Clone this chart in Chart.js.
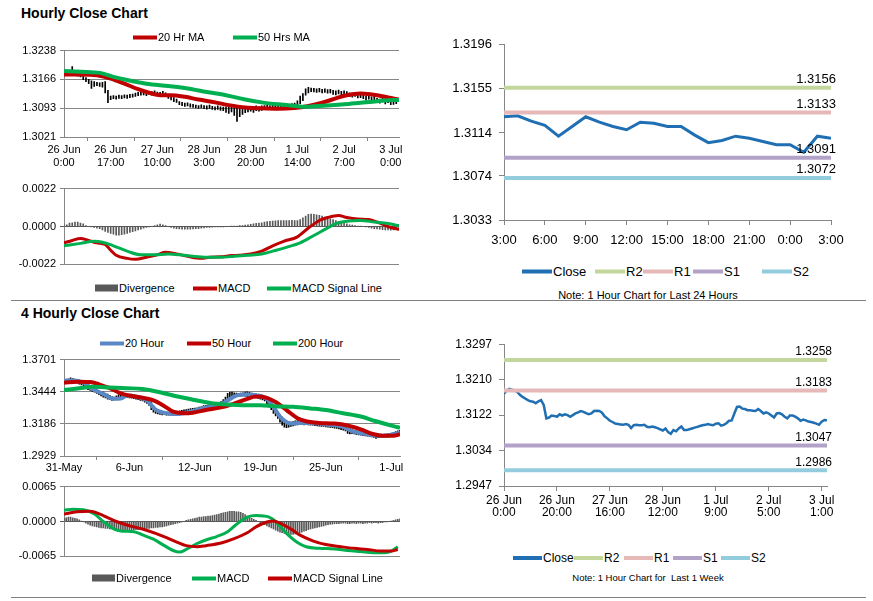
<!DOCTYPE html>
<html>
<head>
<meta charset="utf-8">
<script src="https://cdn.jsdelivr.net/npm/chart.js@4.4.0/dist/chart.umd.min.js"></script>
<style>
  body { margin: 0; background: #fff; width: 873px; height: 601px; position: relative; overflow: hidden;
         font-family: 'Liberation Sans', Arial, sans-serif; color: #000; }
  canvas { position: absolute; }
  .title { position: absolute; left: 21px; font-weight: bold; font-size: 14px; line-height: 1; }
  .rule { position: absolute; left: 11px; width: 855px; height: 1px; background: #808080; }
  .lg { position: absolute; display: flex; align-items: center; transform: translateY(-50%);
        font-size: 11px; line-height: 1; white-space: nowrap; }
  .lg i { display: inline-block; height: 4px; width: 24px; margin-right: 1px; }
  .lg i.box { height: 7px; width: 23px; background: #595959; }
  .lg.nr { font-size: 13px; }
  .lg.nr i { width: 30px; }
  .note { position: absolute; transform: translate(-50%, -50%); white-space: nowrap; line-height: 1; }
</style>
</head>
<body>
<div class="title" style="top:6px">Hourly Close Chart</div>
<div class="title" style="top:306px">4 Hourly Close Chart</div>
<div class="rule" style="top:300px"></div>
<div class="rule" style="top:597px"></div>

<canvas id="hrPrice" width="410" height="132" style="left:0;top:40px"></canvas>
<canvas id="hrMacd" width="410" height="97" style="left:0;top:178px"></canvas>
<canvas id="h4Price" width="410" height="128" style="left:0;top:349px"></canvas>
<canvas id="h4Macd" width="410" height="91" style="left:0;top:476px"></canvas>
<canvas id="dayChart" width="430" height="225" style="left:430px;top:30px"></canvas>
<canvas id="weekChart" width="430" height="200" style="left:430px;top:330px"></canvas>

<div class="lg" style="top:37px;left:133px"><i style="background:#c00000"></i>20 Hr MA</div>
<div class="lg" style="top:37px;left:233px"><i style="background:#00b050"></i>50 Hrs MA</div>

<div class="lg" style="top:288px;left:95px"><i class="box"></i>Divergence</div>
<div class="lg" style="top:288px;left:193px"><i style="background:#c00000"></i>MACD</div>
<div class="lg" style="top:288px;left:267px"><i style="background:#00b050"></i>MACD Signal Line</div>

<div class="lg" style="top:343px;left:100px"><i style="background:#5b87c5"></i>20 Hour</div>
<div class="lg" style="top:343px;left:187px"><i style="background:#c00000"></i>50 Hour</div>
<div class="lg" style="top:343px;left:273px"><i style="background:#00b050"></i>200 Hour</div>

<div class="lg" style="top:578px;left:92px"><i class="box"></i>Divergence</div>
<div class="lg" style="top:578px;left:192px"><i style="background:#00b050"></i>MACD</div>
<div class="lg" style="top:578px;left:268px"><i style="background:#c00000"></i>MACD Signal Line</div>

<div class="lg nr" style="top:271px;left:522px"><i style="background:#1f6fb2"></i>Close</div>
<div class="lg nr" style="top:271px;left:595px"><i style="background:#c3d69b"></i>R2</div>
<div class="lg nr" style="top:271px;left:643px"><i style="background:#e6b9b8"></i>R1</div>
<div class="lg nr" style="top:271px;left:693px"><i style="background:#b3a2c7"></i>S1</div>
<div class="lg nr" style="top:271px;left:762px"><i style="background:#93cddd"></i>S2</div>
<div class="note" style="left:648px;top:295px;font-size:11px">Note: 1 Hour Chart for Last 24 Hours</div>

<div class="lg nr" style="top:558px;left:513px;font-size:12px"><i style="background:#1f6fb2;width:29px"></i>Close</div>
<div class="lg nr" style="top:558px;left:574px;font-size:12px"><i style="background:#c3d69b;width:29px"></i>R2</div>
<div class="lg nr" style="top:558px;left:624px;font-size:12px"><i style="background:#e6b9b8;width:29px"></i>R1</div>
<div class="lg nr" style="top:558px;left:673px;font-size:12px"><i style="background:#b3a2c7;width:29px"></i>S1</div>
<div class="lg nr" style="top:558px;left:721px;font-size:12px"><i style="background:#93cddd;width:29px"></i>S2</div>
<div class="note" style="left:648px;top:578px;font-size:9.5px">Note: 1 Hour Chart for&nbsp; Last 1 Week</div>

<script>
// ---------- Hourly close chart (top left) ----------
const hrTickLabels = [['26 Jun', '0:00'], ['26 Jun', '17:00'], ['27 Jun', '10:00'], ['28 Jun', '3:00'],
  ['28 Jun', '20:00'], ['1 Jul', '14:00'], ['2 Jul', '7:00'], ['3 Jul', '0:00']]
const hrPriceTicks = [1.3021, 1.3093, 1.3166, 1.3238]
const hrLow = [
  1.3176, 1.3177, 1.3176, 1.3176, 1.3175, 1.3174, 1.3172, 1.3165, 1.3160, 1.3155,
  1.3143, 1.3148, 1.3150, 1.3148, 1.3146, 1.3132, 1.3107, 1.3115, 1.3117, 1.3116,
  1.3118, 1.3117, 1.3119, 1.3118, 1.3120, 1.3121, 1.3123, 1.3125, 1.3126, 1.3127,
  1.3125, 1.3128, 1.3126, 1.3127, 1.3126, 1.3125, 1.3127, 1.3124, 1.3118, 1.3114,
  1.3110, 1.3108, 1.3102, 1.3100, 1.3098, 1.3099, 1.3096, 1.3095, 1.3094, 1.3093,
  1.3094, 1.3092, 1.3091, 1.3093, 1.3090, 1.3089, 1.3090, 1.3088, 1.3087, 1.3083,
  1.3080, 1.3084, 1.3075, 1.3060, 1.3072, 1.3078, 1.3082, 1.3084, 1.3086, 1.3083,
  1.3087, 1.3086, 1.3088, 1.3090, 1.3091, 1.3090, 1.3092, 1.3093, 1.3091, 1.3094,
  1.3093, 1.3095, 1.3094, 1.3096, 1.3097, 1.3098, 1.3105, 1.3112, 1.3126, 1.3132,
  1.3135, 1.3134, 1.3133, 1.3134, 1.3132, 1.3133, 1.3131, 1.3132, 1.3128, 1.3127,
  1.3129, 1.3126, 1.3127, 1.3125, 1.3122, 1.3121, 1.3123, 1.3119, 1.3120, 1.3117,
  1.3113, 1.3116, 1.3111, 1.3114, 1.3108, 1.3106, 1.3110, 1.3104, 1.3107, 1.3102,
  1.3103, 1.3105, 1.3110]
const hrHigh = [
  1.3183, 1.3184, 1.3182, 1.3198, 1.3184, 1.3182, 1.3180, 1.3177, 1.3170, 1.3166,
  1.3162, 1.3160, 1.3158, 1.3157, 1.3158, 1.3160, 1.3138, 1.3124, 1.3125, 1.3124,
  1.3126, 1.3125, 1.3127, 1.3126, 1.3128, 1.3129, 1.3131, 1.3133, 1.3134, 1.3136,
  1.3133, 1.3136, 1.3135, 1.3137, 1.3134, 1.3133, 1.3136, 1.3132, 1.3128, 1.3124,
  1.3120, 1.3116, 1.3110, 1.3108, 1.3106, 1.3107, 1.3104, 1.3103, 1.3101, 1.3100,
  1.3102, 1.3100, 1.3099, 1.3101, 1.3098, 1.3097, 1.3099, 1.3097, 1.3096, 1.3097,
  1.3096, 1.3097, 1.3095, 1.3097, 1.3096, 1.3097, 1.3098, 1.3097, 1.3098, 1.3097,
  1.3099, 1.3097, 1.3099, 1.3100, 1.3101, 1.3100, 1.3102, 1.3103, 1.3101, 1.3103,
  1.3102, 1.3104, 1.3103, 1.3105, 1.3106, 1.3112, 1.3124, 1.3130, 1.3142, 1.3146,
  1.3144, 1.3143, 1.3142, 1.3143, 1.3141, 1.3142, 1.3140, 1.3141, 1.3138, 1.3137,
  1.3139, 1.3136, 1.3137, 1.3135, 1.3132, 1.3131, 1.3133, 1.3129, 1.3130, 1.3127,
  1.3124, 1.3126, 1.3122, 1.3124, 1.3118, 1.3116, 1.3120, 1.3114, 1.3117, 1.3112,
  1.3113, 1.3114, 1.3118]
// [bar index, value]
const hrMa20 = [[0, 1.3178], [6, 1.3178], [12, 1.3176], [17, 1.3168], [22, 1.3155], [27, 1.3141], [31, 1.3132],
  [35, 1.3126], [39, 1.3126], [44, 1.3122], [49, 1.3115], [55, 1.3108], [60, 1.3101], [66, 1.3095], [72, 1.3093],
  [78, 1.3092], [84, 1.3094], [89, 1.3099], [94, 1.3107], [99, 1.3118], [103, 1.3126], [108, 1.3130],
  [114, 1.3126], [118, 1.3120], [122, 1.3115]]
const hrMa50 = [[0, 1.3187], [6, 1.3185], [13, 1.3182], [18, 1.3172], [23, 1.3164], [30, 1.3155], [38, 1.3149],
  [45, 1.3143], [52, 1.3134], [59, 1.3126], [66, 1.3115], [72, 1.3108], [78, 1.3103], [84, 1.3099], [88, 1.3097],
  [91, 1.3098], [102, 1.3103], [108, 1.3107], [114, 1.3111], [120, 1.3114], [122, 1.3114]]
const hrMacdTicks = [-0.0022, 0, 0.0022]
const hrMacd = [[0, -0.00095], [3, -0.00081], [6, -0.00069], [9, -0.00081], [12, -0.00095], [15, -0.00104],
  [17, -0.00138], [19, -0.00167], [23, -0.00185], [26, -0.0019], [30, -0.00178], [34, -0.00164], [37, -0.0015],
  [41, -0.00159], [45, -0.00173], [50, -0.00185], [53, -0.00178], [57, -0.00176], [61, -0.00169], [64, -0.00167],
  [68, -0.0016], [72, -0.00143], [76, -0.00112], [80, -0.00086], [85, -0.0006], [89, -0.00009], [93, 0.00035],
  [96, 0.00052], [100, 0.00064], [103, 0.00052], [107, 0.00043], [111, 0.0004], [114, 0.00026], [118, 0],
  [122, -0.00017]]
const hrSignal = [[0, -0.00112], [6, -0.00098], [11, -0.00086], [14, -0.00091], [18, -0.00112], [23, -0.00143],
  [28, -0.00164], [33, -0.00164], [38, -0.0016], [42, -0.00164], [47, -0.00173], [52, -0.00178], [57, -0.00178],
  [62, -0.00173], [67, -0.00167], [72, -0.0016], [76, -0.00143], [81, -0.00121], [86, -0.00095], [91, -0.00052],
  [95, -0.00017], [99, 0.00017], [103, 0.00031], [108, 0.00035], [113, 0.00026], [118, 0.00017], [122, 0.00005]]
const hrDiv = [
  0.0001, 0.0001, 0.0002, 0.00022, 0.00025, 0.00026, 0.0002, 0.00015, 0.00005, 0,
  -0.00003, -0.00005, -0.0001, -0.00012, -0.0002, -0.00028, -0.00035, -0.0004, -0.00045, -0.0005,
  -0.0005, -0.00048, -0.00045, -0.0004, -0.00035, -0.0003, -0.00025, -0.0002, -0.00015, -0.0001,
  -0.00005, -0.00002, 0, 0.00005, 0.0001, 0.00014, 0.0001, 0.00005, 0, -0.00005,
  -0.0001, -0.00012, -0.00014, -0.00015, -0.00015, -0.00016, -0.00015, -0.00014, -0.00013, -0.00012,
  -0.0001, -0.00008, -0.00006, -0.00005, -0.00004, -0.00003, -0.00002, -0.00002, -0.00001, 0,
  0, 0.00001, 0.00002, 0.00003, 0.00005, 0.00006, 0.00008, 0.0001, 0.00012, 0.00015,
  0.00018, 0.0002, 0.00022, 0.00025, 0.00028, 0.0003, 0.00032, 0.00033, 0.00034, 0.00035,
  0.00035, 0.00034, 0.00035, 0.00036, 0.00035, 0.00034, 0.0004, 0.0005, 0.0006, 0.0007,
  0.00072, 0.0007, 0.00068, 0.00065, 0.0006, 0.00055, 0.0005, 0.00045, 0.0004, 0.00035,
  0.0003, 0.00025, 0.0002, 0.00015, 0.0001, 0.00008, 0.00005, 0.00003, 0.00001, 0,
  -0.00003, -0.00006, -0.0001, -0.00012, -0.00014, -0.00016, -0.00018, -0.0002, -0.0002, -0.00022,
  -0.0002, -0.00018, -0.00015]

// ---------- 4 hourly close chart (bottom left) ----------
const h4TickLabels = ['31-May', '6-Jun', '12-Jun', '19-Jun', '25-Jun', '1-Jul']
const h4PriceTicks = [1.2929, 1.3186, 1.3444, 1.3701]
const h4Low = [
  1.3515, 1.3520, 1.3522, 1.3525, 1.3520, 1.3518, 1.3512, 1.3505, 1.3498, 1.3490,
  1.3470, 1.3460, 1.3455, 1.3445, 1.3440, 1.3430, 1.3420, 1.3410, 1.3400, 1.3395,
  1.3385, 1.3380, 1.3375, 1.3378, 1.3385, 1.3392, 1.3398, 1.3400, 1.3402, 1.3398,
  1.3395, 1.3392, 1.3388, 1.3385, 1.3380, 1.3375, 1.3370, 1.3360, 1.3350, 1.3335,
  1.3300, 1.3280, 1.3270, 1.3265, 1.3262, 1.3258, 1.3260, 1.3255, 1.3256, 1.3255,
  1.3254, 1.3256, 1.3255, 1.3258, 1.3262, 1.3265, 1.3268, 1.3270, 1.3275, 1.3278,
  1.3282, 1.3285, 1.3290, 1.3295, 1.3300, 1.3305, 1.3308, 1.3310, 1.3312, 1.3315,
  1.3318, 1.3322, 1.3330, 1.3340, 1.3355, 1.3370, 1.3385, 1.3395, 1.3400, 1.3405,
  1.3405, 1.3408, 1.3410, 1.3408, 1.3405, 1.3402, 1.3400, 1.3398, 1.3395, 1.3390,
  1.3385, 1.3378, 1.3370, 1.3340, 1.3320, 1.3300, 1.3270, 1.3250, 1.3230, 1.3200,
  1.3175, 1.3160, 1.3155, 1.3160, 1.3165, 1.3170, 1.3175, 1.3178, 1.3180, 1.3180,
  1.3178, 1.3180, 1.3178, 1.3176, 1.3175, 1.3172, 1.3170, 1.3168, 1.3166, 1.3165,
  1.3162, 1.3160, 1.3158, 1.3155, 1.3152, 1.3150, 1.3145, 1.3140, 1.3135, 1.3130,
  1.3110, 1.3105, 1.3108, 1.3105, 1.3100, 1.3098, 1.3095, 1.3092, 1.3090, 1.3088,
  1.3085, 1.3082, 1.3078, 1.3070, 1.3075, 1.3078, 1.3080, 1.3082, 1.3084, 1.3085,
  1.3088, 1.3090, 1.3095, 1.3100, 1.3105]
const h4High = [
  1.3540, 1.3545, 1.3548, 1.3555, 1.3550, 1.3545, 1.3540, 1.3535, 1.3528, 1.3520,
  1.3505, 1.3495, 1.3485, 1.3480, 1.3470, 1.3465, 1.3455, 1.3445, 1.3440, 1.3430,
  1.3425, 1.3415, 1.3405, 1.3400, 1.3410, 1.3420, 1.3428, 1.3432, 1.3430, 1.3425,
  1.3420, 1.3418, 1.3415, 1.3412, 1.3408, 1.3402, 1.3398, 1.3392, 1.3385, 1.3375,
  1.3360, 1.3330, 1.3310, 1.3300, 1.3290, 1.3285, 1.3282, 1.3280, 1.3278, 1.3276,
  1.3275, 1.3278, 1.3280, 1.3290, 1.3295, 1.3298, 1.3300, 1.3305, 1.3308, 1.3310,
  1.3312, 1.3315, 1.3320, 1.3325, 1.3332, 1.3335, 1.3338, 1.3340, 1.3342, 1.3345,
  1.3348, 1.3355, 1.3365, 1.3380, 1.3400, 1.3430, 1.3438, 1.3440, 1.3435, 1.3432,
  1.3430, 1.3432, 1.3435, 1.3440, 1.3442, 1.3438, 1.3432, 1.3428, 1.3425, 1.3420,
  1.3415, 1.3410, 1.3405, 1.3395, 1.3370, 1.3350, 1.3330, 1.3300, 1.3280, 1.3260,
  1.3240, 1.3220, 1.3210, 1.3205, 1.3200, 1.3205, 1.3210, 1.3212, 1.3212, 1.3210,
  1.3208, 1.3210, 1.3205, 1.3206, 1.3204, 1.3202, 1.3200, 1.3198, 1.3196, 1.3195,
  1.3195, 1.3192, 1.3190, 1.3188, 1.3185, 1.3182, 1.3178, 1.3175, 1.3170, 1.3165,
  1.3160, 1.3150, 1.3140, 1.3135, 1.3130, 1.3128, 1.3125, 1.3120, 1.3118, 1.3115,
  1.3112, 1.3110, 1.3108, 1.3105, 1.3102, 1.3100, 1.3102, 1.3104, 1.3106, 1.3108,
  1.3112, 1.3118, 1.3125, 1.3130, 1.3135]
const h4Ma20 = [[0, 1.3529], [4, 1.3534], [9, 1.3516], [13, 1.3465], [18, 1.3426], [23, 1.3387], [26, 1.3390],
  [29, 1.3413], [33, 1.3405], [38, 1.3374], [42, 1.3300], [47, 1.3271], [52, 1.3266], [56, 1.3276], [61, 1.3297],
  [65, 1.3318], [70, 1.3328], [75, 1.3374], [79, 1.3413], [84, 1.3421], [88, 1.3416], [93, 1.3387], [96, 1.3323],
  [99, 1.3245], [104, 1.3189], [108, 1.3194], [114, 1.3194], [120, 1.3181], [127, 1.3168], [132, 1.3129],
  [139, 1.3103], [144, 1.3091], [148, 1.3091], [151, 1.3103], [154, 1.3116]]
const h4Ma50 = [[0, 1.3516], [6, 1.3524], [12, 1.3521], [16, 1.3503], [21, 1.3472], [26, 1.3431], [30, 1.3413],
  [36, 1.3395], [41, 1.3374], [46, 1.3328], [50, 1.3284], [55, 1.3271], [59, 1.3276], [65, 1.3297], [72, 1.3318],
  [78, 1.3349], [84, 1.3387], [88, 1.3405], [93, 1.3395], [97, 1.3361], [102, 1.3297], [107, 1.3232],
  [111, 1.3207], [117, 1.3194], [124, 1.3189], [130, 1.3173], [136, 1.3142], [142, 1.3103], [146, 1.3091],
  [151, 1.3091], [154, 1.3103]]
const h4Ma200 = [[0, 1.3457], [7, 1.3472], [13, 1.3483], [21, 1.3478], [29, 1.3472], [36, 1.3465], [44, 1.3439],
  [52, 1.3405], [59, 1.3380], [67, 1.3354], [75, 1.3341], [82, 1.3336], [90, 1.3336], [97, 1.3328], [105, 1.3323],
  [113, 1.3310], [120, 1.3297], [128, 1.3271], [136, 1.3245], [143, 1.3207], [151, 1.3168], [154, 1.3155]]
const h4MacdTicks = [-0.0065, 0, 0.0065]
const h4Macd = [[0, 0.0021], [4, 0.0023], [9, 0.0022], [14, 0.0014], [18, 0], [23, -0.0014], [27, -0.0018],
  [32, -0.0019], [36, -0.0025], [41, -0.0033], [46, -0.0045], [50, -0.0054], [53, -0.0057], [56, -0.0052],
  [61, -0.0041], [66, -0.0033], [70, -0.0028], [75, -0.0019], [79, -0.00055], [84, 0.0008], [88, 0.0011],
  [94, 0.0008], [97, 0], [102, -0.0022], [107, -0.0039], [111, -0.0047], [117, -0.005], [124, -0.0051],
  [130, -0.0054], [136, -0.0056], [142, -0.0058], [147, -0.0058], [150, -0.0055], [153, -0.0047]]
const h4Signal = [[0, 0.0014], [6, 0.0018], [12, 0.0019], [18, 0.0011], [24, 0], [30, -0.0008], [36, -0.0014],
  [42, -0.0022], [47, -0.003], [52, -0.0039], [56, -0.0045], [61, -0.0047], [65, -0.0045], [72, -0.004],
  [78, -0.0032], [84, -0.0021], [88, -0.001], [93, -0.0001], [96, 0.0001], [99, -0.0003], [104, -0.0014],
  [108, -0.0025], [114, -0.0036], [120, -0.0043], [127, -0.0047], [133, -0.005], [139, -0.0052], [145, -0.0055],
  [150, -0.0055], [153, -0.0052]]
const h4Div = [
  0.0006, 0.0007, 0.0008, 0.0008, 0.0007, 0.0006, 0.0005, 0.0003, 0.0001, -0.0001,
  -0.0003, -0.0005, -0.0007, -0.0008, -0.0009, -0.001, -0.0011, -0.0012, -0.0012, -0.0013,
  -0.0013, -0.0014, -0.0014, -0.0015, -0.0015, -0.0016, -0.0016, -0.0016, -0.0017, -0.0017,
  -0.0016, -0.0016, -0.0016, -0.0015, -0.0015, -0.0015, -0.0014, -0.0014, -0.0013, -0.0013,
  -0.0012, -0.0012, -0.0011, -0.0011, -0.001, -0.001, -0.0009, -0.0008, -0.0007, -0.0006,
  -0.0005, -0.0004, -0.0003, -0.0002, -0.0001, 0, 0.0002, 0.0003, 0.0004, 0.0005,
  0.0006, 0.0007, 0.0008, 0.0008, 0.0009, 0.0009, 0.001, 0.001, 0.0011, 0.0012,
  0.0013, 0.0014, 0.0015, 0.0016, 0.0017, 0.0018, 0.0019, 0.0019, 0.0019, 0.0018,
  0.0018, 0.0017, 0.0015, 0.0013, 0.001, 0.0008, 0.0006, 0.0004, 0.0002, 0,
  -0.0002, -0.0004, -0.0006, -0.0008, -0.001, -0.0012, -0.0014, -0.0016, -0.0018, -0.002,
  -0.0021, -0.0022, -0.0023, -0.0024, -0.0024, -0.0024, -0.0023, -0.0022, -0.0021, -0.002,
  -0.0018, -0.0017, -0.0015, -0.0014, -0.0013, -0.0012, -0.0011, -0.001, -0.0009, -0.0008,
  -0.0007, -0.0006, -0.0005, -0.0005, -0.0004, -0.0004, -0.0004, -0.0003, -0.0003, -0.0003,
  -0.0004, -0.0004, -0.0003, -0.0003, -0.0004, -0.0003, -0.0003, -0.0004, -0.0003, -0.0003,
  -0.0002, -0.0003, -0.0002, -0.0002, -0.0003, -0.0002, -0.0002, -0.0001, -0.0001, 0,
  0.0001, 0.0002, 0.0003, 0.0004, 0.0005]

// ---------- last 24 hours (top right) ----------
const dayTickLabels = ['3:00', '6:00', '9:00', '12:00', '15:00', '18:00', '21:00', '0:00', '3:00']
const dayYTicks = [1.3033, 1.3074, 1.3114, 1.3155, 1.3196]
const dayClose = [1.3129, 1.3130, 1.3125, 1.3121, 1.3111, 1.3120, 1.3129, 1.3124, 1.3120, 1.3117,
  1.3124, 1.3123, 1.3120, 1.3120, 1.3112, 1.3105, 1.3107, 1.3111, 1.3109, 1.3106,
  1.3103, 1.3103, 1.3096, 1.3111, 1.3109]
const dayLevels = [1.3156, 1.3133, 1.3091, 1.3072] // R2, R1, S1, S2

// ---------- last week (bottom right) ----------
const weekTickLabels = [['26 Jun', '0:00'], ['26 Jun', '20:00'], ['27 Jun', '16:00'], ['28 Jun', '12:00'],
  ['1 Jul', '9:00'], ['2 Jul', '5:00'], ['3 Jul', '1:00']]
const weekYTicks = [1.2947, 1.3034, 1.3122, 1.3210, 1.3297]
const weekClose = [
  1.3175, 1.3183, 1.3187, 1.3185, 1.3183, 1.3179, 1.3172, 1.3167, 1.3163, 1.3159,
  1.3156, 1.3155, 1.3151, 1.3156, 1.3159, 1.3147, 1.3114, 1.3116, 1.3121, 1.3120,
  1.3118, 1.3124, 1.3121, 1.3124, 1.3122, 1.3118, 1.3122, 1.3126, 1.3129, 1.3132,
  1.3130, 1.3127, 1.3124, 1.3126, 1.3132, 1.3133, 1.3132, 1.3128, 1.3119, 1.3114,
  1.3108, 1.3105, 1.3101, 1.3100, 1.3099, 1.3098, 1.3100, 1.3098, 1.3090, 1.3097,
  1.3098, 1.3097, 1.3097, 1.3098, 1.3093, 1.3092, 1.3094, 1.3092, 1.3090, 1.3087,
  1.3084, 1.3089, 1.3080, 1.3076, 1.3085, 1.3082, 1.3089, 1.3094, 1.3085, 1.3085,
  1.3087, 1.3089, 1.3091, 1.3093, 1.3095, 1.3097, 1.3098, 1.3100, 1.3098, 1.3097,
  1.3101, 1.3102, 1.3096, 1.3098, 1.3102, 1.3108, 1.3109, 1.3126, 1.3142, 1.3143,
  1.3138, 1.3137, 1.3134, 1.3134, 1.3133, 1.3132, 1.3137, 1.3132, 1.3126, 1.3129,
  1.3126, 1.3121, 1.3116, 1.3126, 1.3127, 1.3124, 1.3118, 1.3114, 1.3121, 1.3121,
  1.3118, 1.3114, 1.3108, 1.3111, 1.3109, 1.3106, 1.3105, 1.3103, 1.3101, 1.3098,
  1.3106, 1.3110, 1.3109]
const weekLevels = [1.3258, 1.3183, 1.3047, 1.2986] // R2, R1, S1, S2

const RED = '#c00000'
const GREEN = '#00b050'
const BLUE = '#5b87c5'
const CLOSE = '#1f6fb2'
const DIVC = '#595959'
const AXIS = '#868686'
const LEVEL_COLORS = ['#c3d69b', '#e6b9b8', '#b3a2c7', '#93cddd']
const SANS = "'Liberation Sans', Arial, sans-serif"

const series = (arr) => arr.map((v, i) => ({x: i, y: v}))
const smooth = (pairs, color, width, order) => ({
  data: pairs.map((p) => ({x: p[0], y: p[1]})),
  borderColor: color, backgroundColor: color, borderWidth: width,
  cubicInterpolationMode: 'monotone', order: order,
})
const hiLo = (lo, hi) => ({
  type: 'bar', data: lo.map((v, i) => ({x: i, y: [v, hi[i]]})),
  backgroundColor: '#000', barThickness: 1, order: 9,
})
const histo = (arr) => ({
  type: 'bar', data: series(arr), backgroundColor: DIVC, barThickness: 1, order: 9,
})
const levelLines = (levels, count) => levels.map((v, k) => ({
  data: [{x: 0, y: v}, {x: count - 1, y: v}], borderColor: LEVEL_COLORS[k], borderWidth: 4, order: 4 - k,
}))

// writes the level value above the right end of each level line
const levelLabels = (levels, font) => ({
  id: 'levelLabels',
  afterDatasetsDraw(chart) {
    const {ctx, chartArea, scales} = chart
    ctx.save()
    ctx.font = font
    ctx.fillStyle = '#000'
    ctx.textAlign = 'right'
    ctx.textBaseline = 'bottom'
    levels.forEach((v) => ctx.fillText(v.toFixed(4), chartArea.right + 5, scales.y.getPixelForValue(v) - 2))
    ctx.restore()
  },
})

function makeChart(id, datasets, o) {
  return new Chart(document.getElementById(id), {
    type: 'line',
    data: {datasets: datasets},
    options: {
      responsive: false,
      animation: false,
      layout: {padding: o.padding, autoPadding: false},
      plugins: {legend: {display: false}, tooltip: {enabled: false}},
      elements: {point: {radius: 0}, line: {tension: 0}},
      scales: {
        x: {
          type: 'linear', min: 0, max: o.count - 1, offset: false,
          display: !!o.xLabels,
          afterBuildTicks: (s) => { if (o.xLabels) s.ticks = o.xLabels.map((_, k) => ({value: k * o.xStep})) },
          afterFit: (s) => { s.height = o.xHeight || 0 },
          grid: {drawOnChartArea: false, color: AXIS, tickLength: o.tickLength},
          border: {color: AXIS},
          ticks: {autoSkip: false, maxRotation: 0, padding: o.xPad, color: '#000', font: o.xFont,
            callback: (v, i) => (o.xLabels ? o.xLabels[i] : '')},
        },
        y: {
          min: o.yTicks[0], max: o.yTicks[o.yTicks.length - 1],
          afterBuildTicks: (s) => { s.ticks = o.yTicks.map((v) => ({value: v})) },
          afterFit: (s) => { s.width = o.yWidth },
          grid: {drawOnChartArea: o.yGrid, tickLength: o.tickLength,
            color: (c) => (o.zeroColor && c.tick && c.tick.value === 0 ? o.zeroColor : AXIS)},
          border: {color: AXIS},
          ticks: {autoSkip: false, padding: o.yPad, color: '#000', font: o.yFont, callback: (v) => v.toFixed(4)},
        },
      },
    },
    plugins: o.plugins || [],
  })
}

const leftFont = {family: SANS, size: 11}

makeChart('hrPrice', [hiLo(hrLow, hrHigh), smooth(hrMa20, RED, 4, 2), smooth(hrMa50, GREEN, 4, 1)], {
  count: hrLow.length, xLabels: hrTickLabels, xStep: 17, xHeight: 35, xPad: 3,
  xFont: {family: SANS, size: 11, lineHeight: 1.15}, yTicks: hrPriceTicks, yWidth: 64, yPad: 4,
  yFont: leftFont, yGrid: true, tickLength: 4, padding: {top: 7, right: 11, left: 0, bottom: 0},
})

makeChart('hrMacd', [histo(hrDiv), smooth(hrMacd, RED, 3, 2), smooth(hrSignal, GREEN, 3, 1)], {
  count: hrDiv.length, yTicks: hrMacdTicks, yWidth: 64, yPad: 4, yFont: leftFont, yGrid: true,
  tickLength: 4, zeroColor: '#595959', padding: {top: 8, right: 11, left: 0, bottom: 4},
})

makeChart('h4Price', [hiLo(h4Low, h4High), smooth(h4Ma20, BLUE, 4, 3), smooth(h4Ma50, RED, 4, 2),
  smooth(h4Ma200, GREEN, 4, 1)], {
  count: h4Low.length, xLabels: h4TickLabels, xStep: 30, xHeight: 21, xPad: 1,
  xFont: {family: SANS, size: 11}, yTicks: h4PriceTicks, yWidth: 64, yPad: 4,
  yFont: leftFont, yGrid: true, tickLength: 4, padding: {top: 7, right: 10, left: 0, bottom: 0},
})

makeChart('h4Macd', [histo(h4Div), smooth(h4Macd, GREEN, 3, 2), smooth(h4Signal, RED, 3, 1)], {
  count: h4Div.length, yTicks: h4MacdTicks, yWidth: 64, yPad: 4, yFont: leftFont, yGrid: true,
  tickLength: 4, zeroColor: '#595959', padding: {top: 8, right: 10, left: 0, bottom: 4},
})

makeChart('dayChart', [{data: series(dayClose), borderColor: CLOSE, borderWidth: 3, order: 5}]
  .concat(levelLines(dayLevels, dayClose.length)), {
  count: dayClose.length, xLabels: dayTickLabels, xStep: 3, xHeight: 35, xPad: 8,
  xFont: {family: SANS, size: 13}, yTicks: dayYTicks, yWidth: 74, yPad: 7,
  yFont: {family: SANS, size: 13}, yGrid: false, tickLength: 5,
  padding: {top: 10, right: 29, left: 0, bottom: 0},
  plugins: [levelLabels(dayLevels, '13px ' + SANS)],
})

makeChart('weekChart', [{data: series(weekClose), borderColor: CLOSE, borderWidth: 2.5, order: 5}]
  .concat(levelLines(weekLevels, weekClose.length)), {
  count: weekClose.length, xLabels: weekTickLabels, xStep: 20, xHeight: 44, xPad: 4,
  xFont: {family: SANS, size: 12, lineHeight: 1.0}, yTicks: weekYTicks, yWidth: 74, yPad: 7,
  yFont: {family: SANS, size: 12}, yGrid: false, tickLength: 5,
  padding: {top: 11, right: 33, left: 0, bottom: 0},
  plugins: [levelLabels(weekLevels, '12px ' + SANS)],
})
</script>
</body>
</html>
